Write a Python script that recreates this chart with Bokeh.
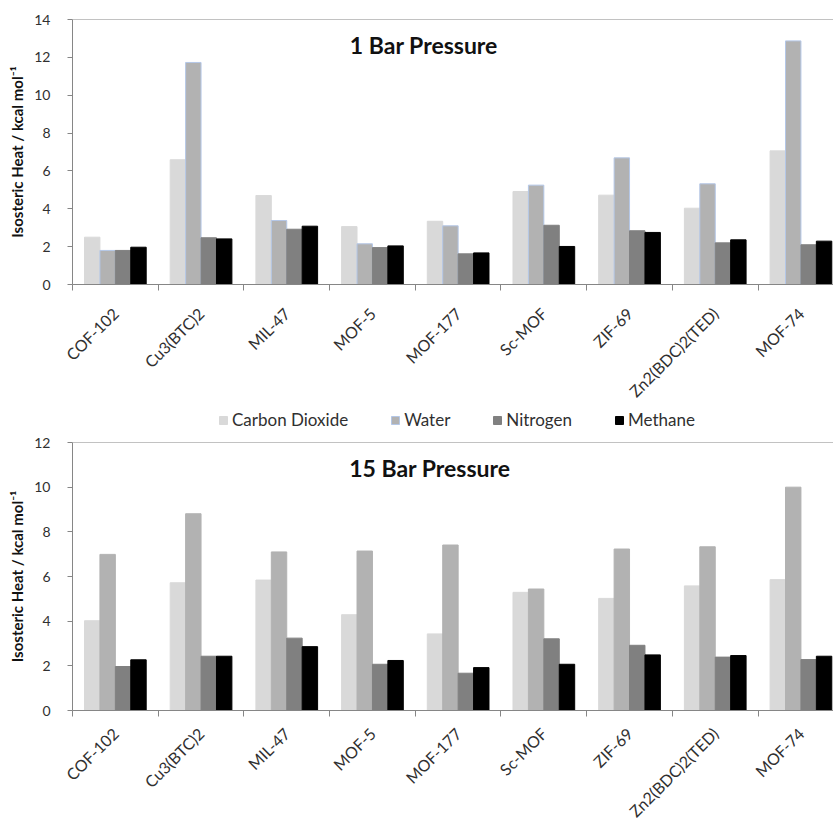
import math
from bokeh.plotting import figure
from bokeh.models import (ColumnDataSource, Range1d, FixedTicker, Legend, LegendItem,
                          Label, Span)
from bokeh.transform import dodge
from bokeh.layouts import column
from bokeh.embed import file_html
from bokeh.resources import INLINE

categories = ["COF-102", "Cu3(BTC)2", "MIL-47", "MOF-5", "MOF-177", "Sc-MOF",
              "ZIF-69", "Zn2(BDC)2(TED)", "MOF-74"]
series = ["Carbon Dioxide", "Water", "Nitrogen", "Methane"]
colors = ["#d9d9d9", "#b2b2b2", "#808080", "#000000"]

# 1 bar pressure
co2_1bar = [2.50, 6.59, 4.70, 3.06, 3.34, 4.91, 4.72, 4.03, 7.06]
water_1bar = [1.80, 11.73, 3.38, 2.15, 3.10, 5.25, 6.69, 5.32, 12.87]
n2_1bar = [1.80, 2.47, 2.92, 1.95, 1.62, 3.13, 2.84, 2.20, 2.10]
ch4_1bar = [1.97, 2.41, 3.08, 2.04, 1.67, 2.01, 2.75, 2.36, 2.29]

# 15 bar pressure
co2_15bar = [4.02, 5.72, 5.84, 4.29, 3.43, 5.29, 5.02, 5.58, 5.86]
water_15bar = [6.99, 8.81, 7.10, 7.14, 7.41, 5.44, 7.23, 7.33, 10.00]
n2_15bar = [1.97, 2.43, 3.24, 2.07, 1.67, 3.21, 2.92, 2.39, 2.28]
ch4_15bar = [2.27, 2.43, 2.86, 2.24, 1.92, 2.07, 2.49, 2.46, 2.43]

y_ticks_1bar = [0, 2, 4, 6, 8, 10, 12, 14]
y_ticks_15bar = [0, 2, 4, 6, 8, 10, 12]

FONT = "Lato"
AXIS_COLOR = "#868686"
TEXT_COLOR = "#303030"
WATER_OUTLINE = "#b4c7e7"
Y_TITLE = "Isosteric Heat / kcal mol\u207b\u00b9"

BAR_W = 0.18
OFFSETS = [-0.27, -0.09, 0.09, 0.27]
X_END = 8.38
COLS = ["co2", "water", "n2", "ch4"]


def add_bars(p, src, water_outline):
    rs = []
    for col, off, c, name in zip(COLS, OFFSETS, colors, series):
        lc = WATER_OUTLINE if (name == "Water" and water_outline) else c
        rs.append(p.vbar(x=dodge("idx", off, range=p.x_range), top=col, width=BAR_W,
                         bottom=0, source=src, fill_color=c, line_color=lc,
                         line_width=1))
    return rs


def make_source(vals):
    return ColumnDataSource(dict(idx=list(range(len(categories))), co2=vals[0],
                                 water=vals[1], n2=vals[2], ch4=vals[3]))


def make_panel(vals, yticks, title, title_x, title_y, height, min_top,
               min_bottom, label_standoff, water_outline):
    idx = list(range(len(categories)))
    src = make_source(vals)
    p = figure(width=833, height=height, output_backend="svg", toolbar_location=None,
               x_range=Range1d(-0.5, X_END), y_range=Range1d(yticks[0], yticks[-1]),
               min_border_left=72, min_border_right=0, min_border_top=min_top,
               min_border_bottom=min_bottom)
    p.xgrid.grid_line_color = None
    p.ygrid.grid_line_color = None
    p.outline_line_color = None
    p.background_fill_color = "white"
    p.border_fill_color = "white"

    add_bars(p, src, water_outline)

    # x axis: category boundaries as minor ticks, names at centres
    xa = p.xaxis[0]
    xa.ticker = FixedTicker(ticks=idx,
                            minor_ticks=[i - 0.5 for i in range(len(categories) + 1)])
    xa.major_label_overrides = {i: lab for i, lab in zip(idx, categories)}
    xa.major_tick_in = 0
    xa.major_tick_out = 0
    xa.minor_tick_in = 0
    xa.minor_tick_out = 6
    xa.minor_tick_line_color = AXIS_COLOR
    xa.axis_line_color = AXIS_COLOR
    xa.major_label_orientation = math.pi / 4
    xa.major_label_text_font = FONT
    xa.major_label_text_font_size = "16px"
    xa.major_label_text_color = TEXT_COLOR
    xa.major_label_standoff = label_standoff

    # y axis
    ya = p.yaxis[0]
    ya.ticker = FixedTicker(ticks=yticks)
    ya.major_tick_in = 0
    ya.major_tick_out = 5
    ya.minor_tick_line_color = None
    ya.axis_line_color = AXIS_COLOR
    ya.major_tick_line_color = AXIS_COLOR
    ya.major_label_text_font = FONT
    ya.major_label_text_font_size = "14px"
    ya.major_label_text_color = TEXT_COLOR
    ya.major_label_standoff = 17
    ya.axis_label = Y_TITLE
    ya.axis_label_text_font = FONT
    ya.axis_label_text_font_style = "bold"
    ya.axis_label_text_font_size = "15px"
    ya.axis_label_text_color = "#111111"
    ya.axis_label_standoff = 5

    p.add_layout(Span(location=yticks[-1], dimension="width", line_color=AXIS_COLOR,
                      line_width=1))
    p.add_layout(Label(x=title_x, y=title_y, text=title, text_align="center",
                       text_baseline="middle", text_font=FONT, text_font_style="bold",
                       text_font_size="23px", text_color="#111111"))
    return p


# top chart: frame 19..284 px
p1 = make_panel([co2_1bar, water_1bar, n2_1bar, ch4_1bar], y_ticks_1bar,
                "1 Bar Pressure", 3.6, 12.63, 410, 19, 126, 20, True)

# legend strip between the charts: the series bars sit below its visible y window,
# so only the legend swatches and names show
pl = figure(width=833, height=24, output_backend="svg", toolbar_location=None,
            x_range=Range1d(-0.5, X_END), y_range=Range1d(20, 21),
            x_axis_location=None, y_axis_location=None,
            min_border_left=72, min_border_right=0, min_border_top=0, min_border_bottom=0)
pl.xgrid.grid_line_color = None
pl.ygrid.grid_line_color = None
pl.outline_line_color = None
legend_renderers = add_bars(pl, make_source([co2_1bar, water_1bar, n2_1bar, ch4_1bar]),
                            True)
legend = Legend(items=[LegendItem(label=s, renderers=[r])
                       for s, r in zip(series, legend_renderers)],
                orientation="horizontal", location=(146, 4),
                glyph_width=10, glyph_height=10, label_standoff=4, spacing=42,
                label_height=20, label_text_font=FONT, label_text_font_size="17px",
                label_text_color=TEXT_COLOR, padding=0, margin=0,
                border_line_color=None, background_fill_alpha=0)
pl.add_layout(legend, "center")

# bottom chart: frame 442..710 px
p2 = make_panel([co2_15bar, water_15bar, n2_15bar, ch4_15bar], y_ticks_15bar,
                "15 Bar Pressure", 3.67, 10.87, 396, 8, 120, 14, False)

layout = column(p1, pl, p2, spacing=0)
open("out.html", "w").write(file_html(layout, INLINE))
